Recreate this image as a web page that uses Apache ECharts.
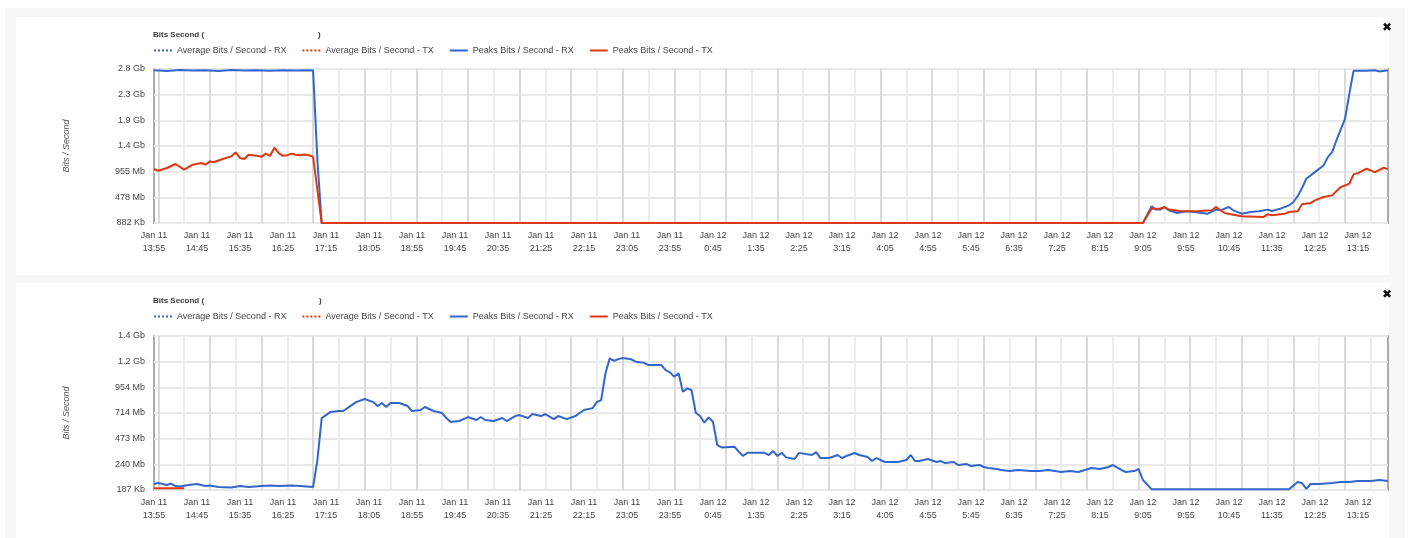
<!DOCTYPE html>
<html>
<head>
<meta charset="utf-8">
<script src="https://cdn.jsdelivr.net/npm/echarts@6/dist/echarts.min.js"></script>
<style>
  html, body { margin: 0; padding: 0; background: #ffffff; }
  #c { width: 1408px; height: 538px; }
</style>
</head>
<body>
<div id="c"></div>
<script>
// ---- time axis: 5-minute samples from Jan 11 13:55 to Jan 12 13:50 ----
const START_MINUTE = 13 * 60 + 55;
const STEP_MINUTES = 5;
const SAMPLE_COUNT = 288;
const timeLabels = [];
const dayLabels = [];
for (let i = 0; i < SAMPLE_COUNT; i++) {
  const m = START_MINUTE + i * STEP_MINUTES;
  const mm = m % 1440;
  timeLabels.push(Math.floor(mm / 60) + ':' + String(mm % 60).padStart(2, '0'));
  dayLabels.push(m >= 1440 ? 'Jan 12' : 'Jan 11');
}

// ---- y tick labels ----
const topYLabels = ['882 Kb', '478 Mb', '955 Mb', '1.4 Gb', '1.9 Gb', '2.3 Gb', '2.8 Gb'];
const bottomYLabels = ['187 Kb', '240 Mb', '473 Mb', '714 Mb', '954 Mb', '1.2 Gb', '1.4 Gb'];
const topStepMb = 477.5;
const bottomStepMb = 238.5;

// ---- series names ----
const seriesNames = [
  'Average Bits / Second - RX',
  'Average Bits / Second - TX',
  'Peaks Bits / Second - RX',
  'Peaks Bits / Second - TX'
];

// ---- upper panel, values in Mb/s as [sample index, value] ----
const topAvgRx = [];
const topAvgTx = [];
const topPeakRx = [
  [0, 2840], [3, 2830], [6, 2845], [9, 2835], [12, 2840], [15, 2830], [18, 2845],
  [21, 2835], [24, 2840], [27, 2833], [30, 2842], [33, 2836], [36, 2840], [37, 2838],
  [38, 1170], [39, 0], [120, 0], [230, 0],
  [232, 310], [233, 249], [234, 249], [235, 297], [236, 236], [238, 186], [240, 217],
  [242, 204], [245, 170], [247, 249], [248, 236], [250, 297], [251, 236], [253, 174],
  [255, 204], [257, 217], [259, 249], [260, 223], [262, 267], [264, 329], [265, 390],
  [266, 500], [267, 650], [268, 824], [270, 947], [272, 1071], [273, 1225], [274, 1318],
  [275, 1535], [277, 1937], [278, 2401], [279, 2834], [282, 2834], [284, 2840],
  [285, 2820], [287, 2840]
];
const topPeakTx = [
  [0, 1005], [1, 973], [3, 1023], [5, 1098], [7, 992], [9, 1085], [11, 1117], [12, 1085],
  [13, 1146], [14, 1135], [16, 1191], [18, 1240], [19, 1314], [20, 1210], [21, 1191],
  [22, 1271], [24, 1250], [25, 1230], [26, 1290], [27, 1250], [28, 1400], [29, 1300],
  [30, 1250], [31, 1260], [32, 1290], [33, 1270], [34, 1260], [35, 1275], [36, 1260],
  [37, 1230], [38, 620], [39, 0], [120, 0], [230, 0],
  [232, 267], [234, 267], [235, 297], [236, 249], [239, 217], [243, 223], [246, 236],
  [247, 297], [249, 186], [251, 155], [253, 124], [258, 111], [259, 161], [260, 143],
  [263, 174], [264, 204], [266, 217], [267, 347], [269, 371], [270, 421], [272, 483],
  [274, 514], [276, 668], [278, 731], [279, 904], [280, 928], [282, 1009], [284, 947],
  [286, 1028], [287, 1003]
];

// ---- lower panel ----
const bottomAvgRx = [];
const bottomAvgTx = [];
const bottomPeakRx = [
  [0, 56], [1, 65], [3, 46], [4, 60], [5, 37], [6, 32], [8, 46], [10, 56], [12, 37],
  [13, 42], [15, 28], [18, 23], [20, 37], [22, 28], [25, 37], [27, 42], [29, 37],
  [32, 42], [34, 37], [37, 28], [38, 278], [39, 668],
  [41, 724], [43, 734], [44, 734], [46, 789], [47, 817], [49, 845], [51, 817], [52, 780],
  [53, 808], [54, 771], [55, 808], [57, 808], [59, 780], [60, 734], [62, 743], [63, 771],
  [65, 734], [67, 715], [68, 669], [69, 631], [71, 641], [73, 678], [75, 650], [76, 678],
  [77, 650], [79, 641], [81, 669], [82, 641], [84, 687], [85, 696], [87, 669], [88, 706],
  [90, 687], [91, 706], [93, 659], [94, 687], [96, 659], [98, 687], [99, 715], [100, 743],
  [102, 761], [103, 817], [104, 836], [105, 1084], [106, 1223], [107, 1201], [108, 1216],
  [109, 1226], [111, 1214], [112, 1192], [114, 1182], [115, 1161], [118, 1161],
  [119, 1114], [120, 1093], [121, 1052], [122, 1084], [123, 913], [124, 944], [125, 929],
  [126, 718], [127, 687], [128, 625], [129, 675], [130, 634], [131, 418], [132, 396],
  [135, 402], [136, 356], [137, 316], [138, 346], [142, 346], [143, 325], [144, 362],
  [145, 316], [146, 346], [147, 303], [149, 288], [150, 345], [153, 325], [154, 352],
  [155, 297], [157, 297], [159, 325], [160, 297], [161, 316], [163, 344], [164, 325],
  [166, 306], [167, 269], [168, 297], [170, 260], [171, 260], [173, 260], [175, 279],
  [176, 325], [177, 269], [178, 269], [180, 288], [182, 260], [183, 269], [184, 250],
  [186, 260], [187, 232], [189, 241], [190, 223], [192, 232], [193, 214], [194, 204],
  [196, 195], [197, 186], [199, 176], [201, 186], [204, 176], [206, 176], [208, 186],
  [211, 167], [213, 176], [215, 167], [218, 204], [220, 195], [222, 214], [223, 232],
  [225, 186], [226, 167], [228, 176], [229, 195], [230, 93], [232, 8], [264, 8],
  [266, 74], [267, 65], [268, 10], [269, 56], [271, 56], [274, 65], [276, 74], [278, 74],
  [280, 84], [283, 84], [285, 93], [287, 84]
];
const bottomPeakTx = [[0, 16], [7, 16]];

// ---- styling ----
const BLUE = '#3366cc';
const RED = '#dc3912';
const FONT = 'Liberation Sans, Arial, sans-serif';
const TEXT = '#444444';

function xAxisFor(gridIndex) {
  return {
    type: 'category',
    gridIndex: gridIndex,
    data: timeLabels,
    boundaryGap: false,
    axisLine: { show: false },
    axisTick: { show: false },
    axisLabel: {
      interval: (i) => i % 10 === 0,
      formatter: (val, i) => dayLabels[i] + '\n' + val,
      fontFamily: FONT, fontSize: 9, color: TEXT, lineHeight: 13, margin: 6
    },
    splitLine: {
      show: true,
      // hour lines darker, half-hour lines lighter
      interval: (i) => i % 6 === 1,
      lineStyle: { color: ['#dadada', '#ededed'], width: 2 }
    }
  };
}

function yAxisFor(gridIndex, step, labels) {
  return {
    type: 'value',
    gridIndex: gridIndex,
    min: 0,
    max: step * 6,
    interval: step,
    name: 'Bits / Second',
    nameLocation: 'middle',
    nameRotate: 90,
    nameGap: 83,
    nameTextStyle: { fontFamily: FONT, fontSize: 9, fontStyle: 'italic', color: '#555' },
    axisLine: { show: false },
    axisTick: { show: false },
    axisLabel: {
      formatter: (v) => labels[Math.round(v / step)],
      fontFamily: FONT, fontSize: 9, color: TEXT, margin: 9
    },
    splitLine: { show: true, lineStyle: { color: '#e8e8e8', width: 2 } }
  };
}

function lineSeries(name, data, color, dotted, axisIndex) {
  return {
    type: 'line',
    name: name,
    data: data,
    xAxisIndex: axisIndex,
    yAxisIndex: axisIndex,
    symbol: 'none',
    animation: false,
    lineStyle: { color: color, width: 2, type: dotted ? 'dotted' : 'solid' },
    itemStyle: { color: color }
  };
}

function legendFor(top) {
  return {
    top: top,
    left: 153,
    padding: 0,
    data: seriesNames,
    itemWidth: 18,
    itemHeight: 8,
    itemGap: 15,
    // line only, no marker in the key
    itemStyle: { opacity: 0 },
    textStyle: { fontFamily: FONT, fontSize: 9, color: TEXT, padding: [0, 0, 0, 0] },
    selectedMode: false
  };
}

const titleStyle = { fontFamily: FONT, fontSize: 8, fontWeight: 'bold', fill: '#3a3a3a' };

const chart = echarts.init(document.getElementById('c'), null, { renderer: 'canvas' });

chart.setOption({
  backgroundColor: '#ffffff',
  animation: false,
  graphic: [
    { type: 'rect', z: -10, silent: true, shape: { x: 5, y: 8, width: 1400, height: 530 }, style: { fill: '#f8f8f8' } },
    { type: 'rect', z: -9, silent: true, shape: { x: 16, y: 17, width: 1373, height: 258 }, style: { fill: '#ffffff' } },
    { type: 'rect', z: -9, silent: true, shape: { x: 16, y: 283, width: 1373, height: 255 }, style: { fill: '#ffffff' } },
    { type: 'text', left: 153, top: 31, style: Object.assign({ text: 'Bits Second (' }, titleStyle) },
    { type: 'text', left: 318, top: 31, style: Object.assign({ text: ')' }, titleStyle) },
    { type: 'text', left: 153, top: 297, style: Object.assign({ text: 'Bits Second (' }, titleStyle) },
    { type: 'text', left: 319, top: 297, style: Object.assign({ text: ')' }, titleStyle) },
    { type: 'text', left: 1382, top: 22, style: { text: '\u2716', fontFamily: 'DejaVu Sans', fontSize: 12, fill: '#111' } },
    { type: 'text', left: 1382, top: 289, style: { text: '\u2716', fontFamily: 'DejaVu Sans', fontSize: 12, fill: '#111' } }
  ],
  legend: [legendFor(46), legendFor(312)],
  grid: [
    { left: 154, top: 69, width: 1234, height: 154, show: true, borderColor: '#ababab', borderWidth: 2, backgroundColor: 'transparent', containLabel: false },
    { left: 154, top: 336, width: 1234, height: 154, show: true, borderColor: '#ababab', borderWidth: 2, backgroundColor: 'transparent', containLabel: false }
  ],
  xAxis: [xAxisFor(0), xAxisFor(1)],
  yAxis: [yAxisFor(0, topStepMb, topYLabels), yAxisFor(1, bottomStepMb, bottomYLabels)],
  series: [
    lineSeries(seriesNames[0], topAvgRx, BLUE, true, 0),
    lineSeries(seriesNames[1], topAvgTx, RED, true, 0),
    lineSeries(seriesNames[2], topPeakRx, BLUE, false, 0),
    lineSeries(seriesNames[3], topPeakTx, RED, false, 0),
    lineSeries(seriesNames[0], bottomAvgRx, BLUE, true, 1),
    lineSeries(seriesNames[1], bottomAvgTx, RED, true, 1),
    lineSeries(seriesNames[2], bottomPeakRx, BLUE, false, 1),
    lineSeries(seriesNames[3], bottomPeakTx, RED, false, 1)
  ]
});
</script>
</body>
</html>
